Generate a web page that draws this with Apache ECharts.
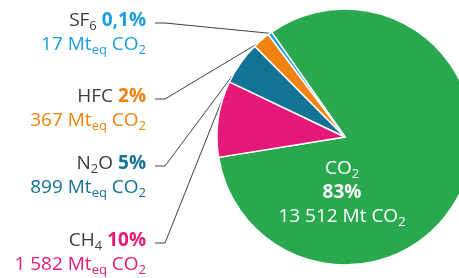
<!DOCTYPE html>
<html>
<head>
<meta charset="utf-8">
<script src="https://cdn.jsdelivr.net/npm/echarts@6/dist/echarts.min.js"></script>
<style>
html, body { margin: 0; padding: 0; background: #fff; }
#main { width: 459px; height: 278px; }
</style>
</head>
<body>
<div id="main"></div>
<script>
// greenhouse gas emissions, Mt CO2 eq
var gases = ['CO2', 'CH4', 'N2O', 'HFC', 'SF6'];
var emissions = [13512, 1582, 899, 367, 17];
var shares = ['83%', '10%', '5%', '2%', '0,1%'];
var valueText = ['13 512', '1 582', '899', '367', '17'];
var nameText = ['CO{s|2}', 'CH{s|4}', 'N{s|2}O', 'HFC', 'SF{s|6}'];
var colors = ['#2aa84f', '#e5197a', '#137397', '#f0820f', '#1a9ee0'];

// where the outside labels sit (top of block) and where their leader touches the slice
var labelTops = [0, 229, 152, 85, 9];
var anchorFrac = [0, 0.93, 0.2, 0.2, 0.5];

var chart = echarts.init(document.getElementById('main'));

var rich = {
    s: { fontSize: 13, lineHeight: 11, verticalAlign: 'bottom', fontFamily: 'Open Sans' },
    b: { fontWeight: 'bold', fontSize: 19, fontFamily: 'Open Sans' }
};
colors.forEach(function (c, i) {
    rich['p' + i] = { color: c, fontWeight: 'bold', fontSize: 19, fontFamily: 'Open Sans' };
    rich['v' + i] = { color: c, fontSize: 19, fontFamily: 'Open Sans' };
    rich['vs' + i] = { color: c, fontSize: 13, lineHeight: 11, verticalAlign: 'bottom', fontFamily: 'Open Sans' };
});

var pieData = gases.map(function (g, i) {
    var item = { name: g, value: emissions[i], itemStyle: { color: colors[i] } };
    if (i === 0) {
        item.label = {
            position: 'inside',
            color: '#fff',
            align: 'center',
            formatter: nameText[0] + '\n{b|' + shares[0] + '}\n' + valueText[0] + ' Mt CO{s|2}'
        };
        item.labelLine = { show: false };
    } else {
        item.label = {
            formatter: nameText[i] + ' {p' + i + '|' + shares[i] + '}\n' +
                '{v' + i + '|' + valueText[i] + ' Mt}{vs' + i + '|eq}{v' + i + '| CO}{vs' + i + '|2}'
        };
    }
    return item;
});

var option = {
    animation: false,
    series: [{
        type: 'pie',
        center: [345, 137],
        radius: 128,
        startAngle: 125,
        clockwise: true,
        minAngle: 1.8,
        avoidLabelOverlap: false,
        itemStyle: { borderColor: '#fff', borderWidth: 1.5 },
        label: {
            show: true,
            position: 'outside',
            color: '#3c3c3b',
            fontFamily: 'Open Sans',
            fontSize: 19,
            lineHeight: 24,
            align: 'right',
            rich: rich
        },
        labelLine: { show: true, lineStyle: { color: '#404040', width: 1 } },
        labelLayout: function (params) {
            var i = params.dataIndex;
            if (i === 0) {
                return { x: 342, y: 157, align: 'center', verticalAlign: 'top' };
            }
            var top = labelTops[i];
            var lay = chart.getModel().getSeriesByIndex(0).getData().getItemLayout(i);
            var a = lay.startAngle + anchorFrac[i] * (lay.endAngle - lay.startAngle);
            var p0 = [lay.cx + lay.r * Math.cos(a), lay.cy + lay.r * Math.sin(a)];
            return {
                x: 146, y: top, align: 'right', verticalAlign: 'top',
                labelLinePoints: [p0, [165, top + 14], [155, top + 14]]
            };
        },
        data: pieData
    }]
};

chart.setOption(option);
</script>
</body>
</html>
